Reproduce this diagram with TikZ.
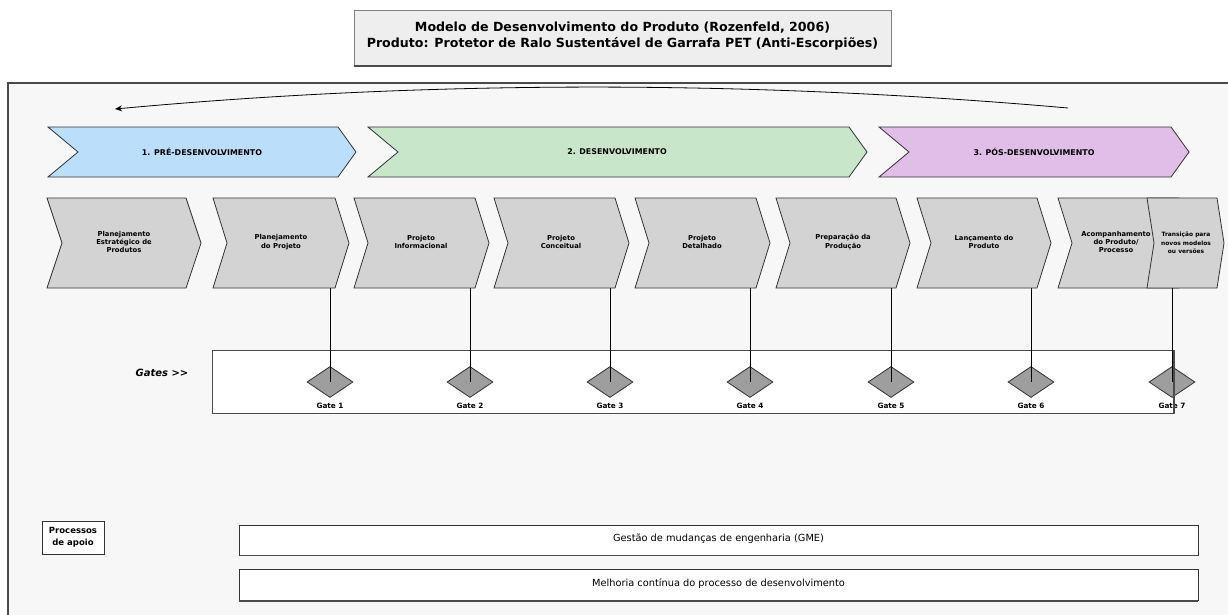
\documentclass[tikz,border=0pt]{standalone}
\usepackage{fontspec}
\setmainfont{DejaVu Sans}
\usetikzlibrary{shapes.geometric,arrows.meta}
\definecolor{framefill}{HTML}{F7F7F7}
\definecolor{framedraw}{HTML}{4A4A4A}
\definecolor{titlefill}{HTML}{EEEEEE}
\definecolor{phaseA}{HTML}{BBDEFB}
\definecolor{phaseB}{HTML}{C8E6C9}
\definecolor{phaseC}{HTML}{E1BEE7}
\definecolor{stepfill}{HTML}{D3D3D3}
\definecolor{gatefill}{HTML}{9E9E9E}
\definecolor{edge}{HTML}{333333}
\newcommand\chevron[7]{%
  \pgfmathsetmacro\chvM{(#4+#5)/2}%
  \pgfmathsetmacro\chvR{#3-#7}%
  \pgfmathsetmacro\chvL{#2+#6}%
  \path[#1] (#2,#4) -- (\chvR,#4) -- (#3,\chvM) -- (\chvR,#5) -- (#2,#5) -- (\chvL,\chvM) -- cycle;}
\tikzset{
  phaseshape/.style={draw=edge,line width=0.8pt},
  stepshape/.style={draw=edge,fill=stepfill,line width=0.8pt},
  phaselabel/.style={font=\bfseries\fontsize{7.9}{9}\selectfont,inner sep=0pt},
  steplabel/.style={font=\bfseries\fontsize{6.8}{8.4}\selectfont,align=center,inner sep=0pt},
  gatebox/.style={draw=framedraw,fill=white,line width=0.9pt},
  gatediamond/.style={diamond,draw=edge,fill=gatefill,line width=0.8pt,minimum width=46pt,minimum height=31pt,inner sep=0pt},
  gatelabel/.style={font=\bfseries\fontsize{7.3}{8}\selectfont,inner sep=0pt},
  gateline/.style={draw=black,line width=0.7pt},
  supportbox/.style={draw=edge,fill=white,line width=0.8pt,inner sep=0pt},
  supporttext/.style={font=\fontsize{9.8}{11}\selectfont,inner sep=0pt},
}
\begin{document}
\begin{tikzpicture}[x=1pt,y=-1pt]
\useasboundingbox (0,0) rectangle (1228,614);
\clip (0,0) rectangle (1228,614);
\fill[white] (0,0) rectangle (1228,614);
% title
\draw[fill=titlefill,draw=gray,line width=0.8pt] (354,10) rectangle (891,66);
\draw[framedraw,line width=1.6pt] (354,66) -- (891,66);
\node[font=\bfseries\fontsize{12.6}{15.5}\selectfont,align=center,inner sep=0pt] (title) at (622.5,36) {Modelo de Desenvolvimento do Produto (Rozenfeld, 2006)\\Produto: Protetor de Ralo Sustentável de Garrafa PET (Anti-Escorpiões)};
% frame
\draw[fill=framefill,draw=framedraw,line width=1.2pt] (8,83) rectangle (1250,640);
% feedback arc
\coordinate (arcstart) at (1068,108);
\coordinate (arcend) at (115,109);
\draw[line width=0.8pt,-{Stealth[length=7pt,width=6pt]}] (arcstart) .. controls (750,80) and (430,80) .. (arcend);
% phases
\chevron{phaseshape,fill=phaseA}{48}{356}{127}{177}{30}{18}
\chevron{phaseshape,fill=phaseB}{368}{867}{127}{177}{30}{18}
\chevron{phaseshape,fill=phaseC}{879}{1189}{127}{177}{30}{18}
\node[phaselabel] (p1) at (202,152) {1. PRÉ-DESENVOLVIMENTO};
\node[phaselabel] (p2) at (617,152) {2. DESENVOLVIMENTO};
\node[phaselabel] (p3) at (1034,152) {3. PÓS-DESENVOLVIMENTO};
% steps
\chevron{stepshape}{47}{201}{198}{288}{15}{15}
\chevron{stepshape}{213}{349}{198}{288}{14}{14}
\chevron{stepshape}{354}{489}{198}{288}{14}{14}
\chevron{stepshape}{494}{629}{198}{288}{14}{14}
\chevron{stepshape}{635}{770}{198}{288}{14}{14}
\chevron{stepshape}{776}{910}{198}{288}{14}{14}
\chevron{stepshape}{917}{1051}{198}{288}{14}{14}
\chevron{stepshape}{1058}{1193}{198}{288}{14}{14}
\chevron{stepshape}{1147}{1224}{198}{288}{7}{7}
\node[steplabel] (s1) at (124,242) {Planejamento\\Estratégico de\\Produtos};
\node[steplabel] (s2) at (281,242) {Planejamento\\do Projeto};
\node[steplabel] (s3) at (421,242) {Projeto\\Informacional};
\node[steplabel] (s4) at (561,242) {Projeto\\Conceitual};
\node[steplabel] (s5) at (702,242) {Projeto\\Detalhado};
\node[steplabel] (s6) at (843,242) {Preparação da\\Produção};
\node[steplabel] (s7) at (984,242) {Lançamento do\\Produto};
\node[steplabel] (s8) at (1116,242) {Acompanhamento\\do Produto/\\Processo};
\node[steplabel,font=\bfseries\fontsize{5.9}{8.3}\selectfont] (s9) at (1186,243) {Transição para\\novos modelos\\ou versões};
% gates
\node[font=\bfseries\itshape\fontsize{10}{11}\selectfont,inner sep=0pt] (gates) at (162,373) {Gates >{}>};
\draw[gatebox] (212,350) rectangle (1174,413);
\foreach \i/\x in {1/330,2/470,3/610,4/750,5/891,6/1031,7/1172}{
  \node[gatediamond] (gate\i) at (\x,382) {};
  \node[gatelabel] (gl\i) at (\x,406) {Gate \i};
  \coordinate (gtop\i) at (\x,288);
  \draw[gateline] (gtop\i) -- (gate\i.center);
}
\draw[framedraw,line width=1.6pt] (1174,350) -- (1174,413);
% support processes
\node[draw=edge,fill=white,line width=0.8pt,minimum width=62pt,minimum height=33pt,inner sep=0pt,align=center,font=\bfseries\fontsize{8.5}{12}\selectfont] (apoio) at (73,537.5) {Processos\\de apoio};
\node[supportbox,minimum width=959pt,minimum height=30pt] (gme) at (718.5,540) {};
\draw[framedraw,line width=1.6pt] (gme.south west) -- (gme.south east);
\node[supporttext] (gmet) at (718.5,539) {Gestão de mudanças de engenharia (GME)};
\node[supportbox,minimum width=959pt,minimum height=31pt] (mel) at (718.5,585) {};
\draw[framedraw,line width=1.6pt] (mel.south west) -- (mel.south east);
\node[supporttext] (melt) at (718.5,584) {Melhoria contínua do processo de desenvolvimento};
\end{tikzpicture}
\end{document}
